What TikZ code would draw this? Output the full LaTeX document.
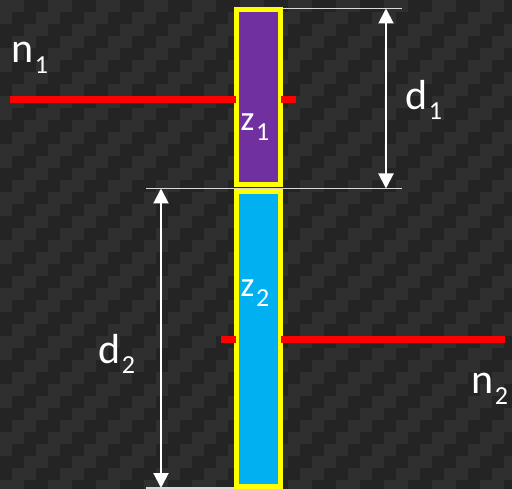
\documentclass[tikz,border=0pt]{standalone}
\usepackage{fontspec}
\setmainfont{Carlito}
\usetikzlibrary{arrows.meta}

\definecolor{bgdark}{HTML}{242424}
\definecolor{bglight}{HTML}{2F2F2F}
\definecolor{layerone}{HTML}{7030A0}
\definecolor{layertwo}{HTML}{00B0F0}
\definecolor{rimyellow}{HTML}{FFFF00}
\definecolor{raycol}{HTML}{FF0000}
\definecolor{dimcol}{HTML}{D9D9D9}

% label with a subscript
\newcommand{\sublbl}[3]{#1\hspace{1.5pt}\raisebox{-#3}{\fontsize{26}{30}\selectfont #2}}

\tikzset{
  layer/.style={draw=rimyellow, line width=5pt, inner sep=0pt, minimum width=44.5pt},
  ray/.style={draw=raycol, line width=6.5pt},
  dimline/.style={draw=dimcol, line width=1.4pt},
  dimarrow/.style={draw=white, fill=white, line width=2pt, {Triangle[width=15pt,length=15pt]}-{Triangle[width=15pt,length=15pt]}},
  lbl/.style={text=white, anchor=base west, inner sep=0pt, font=\fontsize{42}{50}\selectfont},
  zlbl/.style={lbl, font=\fontsize{35}{42}\selectfont}
}

\begin{document}
\begin{tikzpicture}[x=1pt, y=-1pt]
    \useasboundingbox (0,0) rectangle (512,489);

    % carbon background
    \fill[bgdark] (0,0) rectangle (512,489);
    \begin{scope}
    \clip (0,0) rectangle (512,489);
    \foreach \i in {0,...,42}{
        \foreach \j in {0,...,40}{
            \pgfmathtruncatemacro{\k}{mod(\i+\j,4)}
            \ifnum\k<2 \fill[bglight] (\i*12,\j*12) rectangle ++(12,12); \fi
        }
    }
    \end{scope}

    % reference points
    \coordinate (d1top) at (402,8.5);
    \coordinate (d1bot) at (402,188.5);
    \coordinate (d2top) at (146,188.5);
    \coordinate (d2bot) at (146,488);
    \coordinate (n1L) at (10,99.5);
    \coordinate (n1a) at (236,99.5);
    \coordinate (n1b) at (281,99.5);
    \coordinate (n1R) at (296,99.5);
    \coordinate (n2L) at (221,339.5);
    \coordinate (n2a) at (236,339.5);
    \coordinate (n2b) at (281,339.5);
    \coordinate (n2R) at (505,339.5);

    % thin extension lines
    \draw[dimline] (282,8.5) -- (d1top);
    \draw[dimline] (d2top) -- (d1bot);
    \draw[dimline] (d2bot) -- (236,488);

    % the two layers
    \node[layer, fill=layerone, minimum height=175pt] (upper) at (258.25,97) {};
    \node[layer, fill=layertwo, minimum height=294.5pt] (lower) at (258.25,338.75) {};

    % interface rays
    \draw[ray] (n1L) -- (n1a);
    \draw[ray] (n1b) -- (n1R);
    \draw[ray] (n2L) -- (n2a);
    \draw[ray] (n2b) -- (n2R);

    % thickness arrows
    \draw[dimarrow] (386,8.5) -- (386,188.5);
    \draw[dimarrow] (161,188.5) -- (161,488);

    % labels
    \node[lbl] (n1) at (11,63) {\sublbl{n}{1}{11pt}};
    \node[lbl] (d1) at (405,110) {\sublbl{d}{1}{10pt}};
    \node[zlbl] (z1) at (240.5,131) {\sublbl{z}{1}{10pt}};
    \node[zlbl] (z2) at (240.5,297) {\sublbl{z}{2}{10pt}};
    \node[lbl] (d2) at (98,363) {\sublbl{d}{2}{10pt}};
    \node[lbl] (n2) at (471,393) {\sublbl{n}{2}{11pt}};
\end{tikzpicture}
\end{document}
